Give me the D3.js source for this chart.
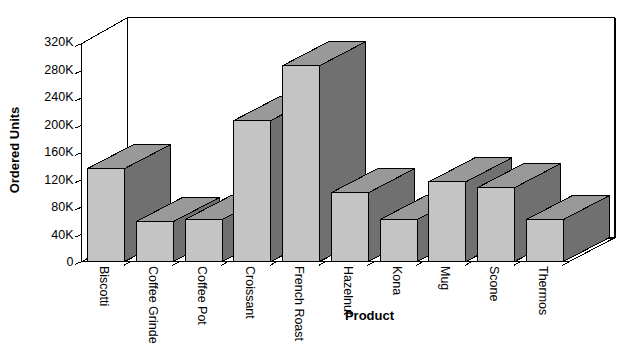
<!DOCTYPE html>
<html>
<head>
<meta charset="utf-8">
<script src="https://cdn.jsdelivr.net/npm/d3@7"></script>
<style>
  html, body { margin: 0; padding: 0; background: #fff; }
  svg { display: block; }
  text { font-family: "Liberation Sans", Arial, sans-serif; font-size: 12.5px; fill: #000; }
  line, polygon { shape-rendering: crispEdges; }
</style>
</head>
<body>
<div id="chart"></div>
<script>
var categories = ["Biscotti", "Coffee Grinde", "Coffee Pot", "Croissant", "French Roast",
                  "Hazelnut", "Kona", "Mug", "Scone", "Thermos"];
var units = [136500, 58700, 61600, 207000, 287500, 101000, 61600, 117000, 108500, 61600];
var tickValues = [0, 40000, 80000, 120000, 160000, 200000, 240000, 280000, 320000];

var svg = d3.select("#chart")
  .append("svg")
    .attr("width", 638)
    .attr("height", 352);

// oblique offset of the 3d box
var depthX = 46, depthY = -24;

var x = d3.scaleBand()
  .domain(categories)
  .range([81.8, 569.3])
  .paddingInner(0.24)
  .paddingOuter(0.12);

var y = d3.scaleLinear()
  .domain([0, 320000])
  .range([261.5, 43.5]);

// tick labels drift a little from their ticks in the original
var yLabel = d3.scaleLinear()
  .domain([0, 320000])
  .range([266, 46]);

var x0 = x.range()[0], x1 = x.range()[1];
var y0 = y(0), yTop = y(320000);

function line(g, a, b, c, d, w) {
  g.append("line")
    .attr("x1", a).attr("y1", b).attr("x2", c).attr("y2", d)
    .attr("stroke", "#000").attr("stroke-width", w || 1);
}

// walls and floor
var frame = svg.append("g");
line(frame, x0, yTop, x0, y0);
line(frame, x0, y0, x1, y0);
line(frame, x0, yTop, x0 + depthX, yTop + depthY - 2);
line(frame, x0 + depthX, yTop + depthY - 2, x0 + depthX, y0 + depthY);
line(frame, x0 + depthX, yTop + depthY - 2, x1 + depthX, yTop + depthY - 2);
line(frame, x0, y0, x0 + depthX, y0 + depthY);
line(frame, x1, y0, x1 + depthX, y0 + depthY);
line(frame, x1 + depthX, yTop + depthY - 2, x1 + depthX, y0 + depthY, 2);
line(frame, x1 + depthX - 7, y0 + depthY, x1 + depthX, y0 + depthY, 2);

// y ticks
var yAxis = svg.append("g");
tickValues.forEach(function(v) {
  line(yAxis, x0 - 7, y(v) + 3, x0, y(v));
  yAxis.append("text")
    .attr("x", 73.5)
    .attr("y", yLabel(v))
    .attr("text-anchor", "end")
    .text(v === 0 ? "0" : (v / 1000) + "K");
});

// x ticks sit on the band boundaries
var xAxis = svg.append("g");
categories.forEach(function(c) {
  var edge = x(c) + x.bandwidth() + x.step() * x.paddingInner() / 2;
  line(xAxis, edge - 7, y0 + 4, edge, y0);
  var cx = x(c) + x.bandwidth() / 2 - 6;
  xAxis.append("text")
    .attr("transform", "translate(" + cx + ",266)rotate(90)")
    .text(c);
});

// bars, left to right so each one covers its neighbour's side
var bars = svg.selectAll("g.bar")
  .data(categories)
  .enter()
  .append("g")
    .attr("class", "bar");

function poly(sel, fill, pts) {
  sel.append("polygon")
    .attr("fill", fill)
    .attr("stroke", "#000")
    .attr("stroke-width", 1)
    .attr("stroke-linejoin", "round")
    .attr("points", function(d, i) { return pts(x(d), x(d) + x.bandwidth(), y(units[i])).join(" "); });
}

poly(bars, "#707070", function(l, r, t) {
  return [[r, t], [r + depthX, t + depthY], [r + depthX, y0 + depthY], [r, y0]];
});
poly(bars, "#999999", function(l, r, t) {
  return [[l, t], [l + depthX, t + depthY], [r + depthX, t + depthY], [r, t]];
});
poly(bars, "#c4c4c4", function(l, r, t) {
  return [[l, t], [r, t], [r, y0], [l, y0]];
});

svg.append("text")
  .attr("x", 369.5)
  .attr("y", 320)
  .attr("text-anchor", "middle")
  .style("font-weight", "bold")
  .style("font-size", "13px")
  .text("Product");

svg.append("text")
  .attr("transform", "translate(19,150)rotate(-90)")
  .attr("text-anchor", "middle")
  .style("font-weight", "bold")
  .style("font-size", "13px")
  .text("Ordered Units");
</script>
</body>
</html>
